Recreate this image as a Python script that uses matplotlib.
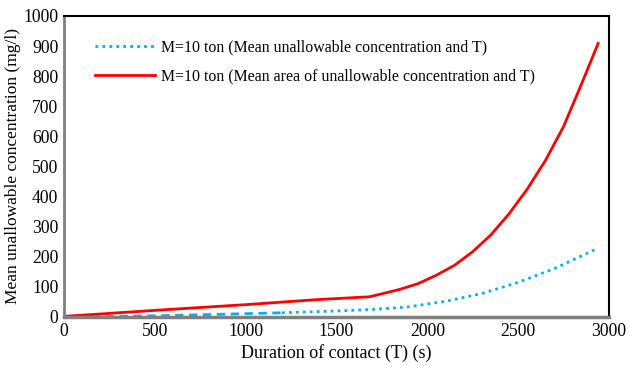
import matplotlib.pyplot as plt

plt.rcParams['font.family'] = ['Liberation Serif', 'DejaVu Serif']

# red: mean area of unallowable concentration
t_area = [0, 500, 1000, 1400, 1680, 1750, 1850, 1950, 2050, 2150, 2250, 2350, 2450,
          2550, 2650, 2750, 2850, 2940]
c_area = [2, 22, 41, 58, 67, 77, 92, 111, 139, 172, 217, 273, 343,
          425, 520, 633, 776, 909]

# blue: mean unallowable concentration
t_mean = [0, 500, 1000, 1200, 1500, 1700, 1900, 2100, 2300, 2500, 2700, 2940]
c_mean = [0, 4, 11, 14, 20, 25, 34, 52, 78, 115, 161, 229]

labels = ["M=10 ton (Mean unallowable concentration and T)",
          "M=10 ton (Mean area of unallowable concentration and T)"]

fig = plt.figure(figsize=(6.3, 3.66), dpi=100)
ax = fig.add_axes([0.1016, 0.1339, 0.8651, 0.8224])

blue = '#00B0F0'
# first part of the blue series looks dashed in the original
ax.plot(t_mean[:4], c_mean[:4], color=blue, linestyle=(0, (3, 2)), linewidth=2)
ax.plot(t_mean[3:], c_mean[3:], color=blue, linestyle=(0, (1, 1.5)), linewidth=2)
ax.plot([], [], color=blue, linestyle=(0, (1, 1.5)), linewidth=2, label=labels[0])
ax.plot(t_area, c_area, color='#FF0000', linewidth=2, solid_joinstyle='round', label=labels[1])

ax.set_xlim(0, 3000)
ax.set_ylim(0, 1000)
ax.set_xticks(range(0, 3001, 500))
ax.set_yticks(range(0, 1001, 100))
ax.tick_params(length=0, labelsize=12.7, pad=4)

ax.spines['left'].set_color('#808080')
ax.spines['left'].set_linewidth(2)
ax.spines['bottom'].set_color('#808080')
ax.spines['bottom'].set_linewidth(2.5)
ax.spines['top'].set_linewidth(1.5)
ax.spines['right'].set_linewidth(1.5)

ax.set_xlabel('Duration of contact (T) (s)', fontsize=13, labelpad=3)
ax.set_ylabel('Mean unallowable concentration (mg/l)', fontsize=12.5, labelpad=2)

ax.legend(loc='upper left', bbox_to_anchor=(0.03, 0.97), frameon=False, fontsize=11.4,
          handlelength=3.8, handletextpad=0.4, labelspacing=0.85)

fig.savefig('out.png', dpi=100)
